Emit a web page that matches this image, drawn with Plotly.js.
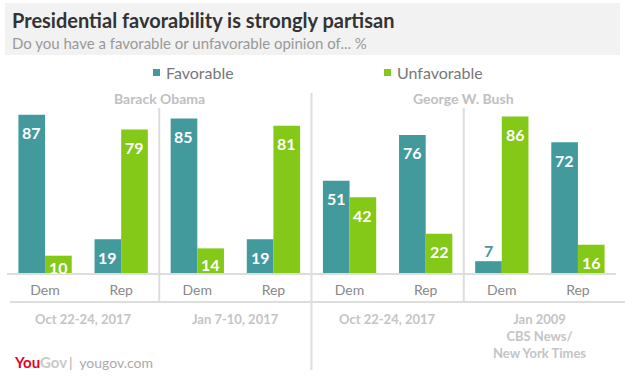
<!DOCTYPE html>
<html>
<head>
<meta charset="utf-8">
<script src="https://cdn.plot.ly/plotly-3.0.1.min.js"></script>
<style>html,body{margin:0;padding:0;background:#fff;}#chart{width:625px;height:376px;}</style>
</head>
<body>
<div id="chart"></div>
<script>
// ---- data ----
const categories = ['Dem', 'Rep', 'Dem', 'Rep', 'Dem', 'Rep', 'Dem', 'Rep'];
const favorable = [87, 19, 85, 19, 51, 76, 7, 72];
const unfavorable = [10, 79, 14, 81, 42, 22, 86, 16];
const seriesNames = ['Favorable', 'Unfavorable'];
const panelLabels = ['Barack Obama', 'George W. Bush'];
const dateLabels = ['Oct 22-24, 2017', 'Jan 7-10, 2017', 'Oct 22-24, 2017', 'Jan 2009<br>CBS News/<br>New York Times'];
const titleText = 'Presidential favorability is strongly partisan';
const subtitleText = 'Do you have a favorable or unfavorable opinion of... %';

// ---- style ----
const W = 625, H = 376;
const M = {l: 7, r: 9, t: 91, b: 102};
const PW = W - M.l - M.r, PH = H - M.t - M.b;
const TEAL = '#439a9d', GREEN = '#84c818';
const FONT = 'Lato, "Open Sans", sans-serif';
const px = x => (x - M.l) / PW;
const py = y => (H - M.b - y) / PH;
const pxPerUnit = PH / 100;

const xs = categories.map((c, i) => i);

const traces = [
  {type: 'bar', name: seriesNames[0], x: xs, y: favorable, marker: {color: TEAL}, hoverinfo: 'none'},
  {type: 'bar', name: seriesNames[1], x: xs, y: unfavorable, marker: {color: GREEN}, hoverinfo: 'none'}
];

const annotations = [];
const shapes = [];

// value labels
[[favorable, -0.175, TEAL], [unfavorable, 0.175, GREEN]].forEach(([vals, off, col]) => {
  vals.forEach((v, i) => {
    const h = v * pxPerUnit;
    const outside = v < 9;
    annotations.push({
      x: i + off, y: v, xref: 'x', yref: 'y', text: '<b>' + v + '</b>', showarrow: false,
      yanchor: 'middle', yshift: outside ? 11 : -Math.min(18, 0.62 * h),
      font: {family: FONT, size: 16, color: outside ? col : '#ffffff'}
    });
  });
});

// header background
shapes.push({type: 'rect', xref: 'paper', yref: 'paper', x0: px(5), x1: px(620), y0: py(3), y1: py(55),
  fillcolor: '#f2f2f2', line: {width: 0}, layer: 'below'});

// title + subtitle
annotations.push({xref: 'paper', yref: 'paper', x: px(10), y: py(20), xanchor: 'left', yanchor: 'middle',
  text: '<b>' + titleText + '</b>', showarrow: false, font: {family: FONT, size: 20, color: '#333333'}});
annotations.push({xref: 'paper', yref: 'paper', x: px(10), y: py(43), xanchor: 'left', yanchor: 'middle',
  text: subtitleText, showarrow: false, font: {family: FONT, size: 15, color: '#999999'}});

// legend
[[153, TEAL, 164], [384, GREEN, 395]].forEach(([sx, col, tx], k) => {
  shapes.push({type: 'rect', xref: 'paper', yref: 'paper', x0: px(sx), x1: px(sx + 7), y0: py(69), y1: py(76),
    fillcolor: col, line: {width: 0}});
  annotations.push({xref: 'paper', yref: 'paper', x: px(tx), y: py(72.5), xanchor: 'left', yanchor: 'middle',
    text: seriesNames[k], showarrow: false, font: {family: FONT, size: 16, color: '#777777'}});
});

// panel labels
panelLabels.forEach((t, k) => {
  annotations.push({xref: 'x', yref: 'paper', x: 1.5 + 4 * k, y: py(98), yanchor: 'middle',
    text: '<b>' + t + '</b>', showarrow: false, font: {family: FONT, size: 14, color: '#c0c0c0'}});
});

// date labels
dateLabels.forEach((t, k) => {
  annotations.push({xref: 'x', yref: 'paper', x: 0.5 + 2 * k, y: py(309), yanchor: 'top',
    text: '<b>' + t + '</b>', showarrow: false, font: {family: FONT, size: 13, color: '#c4c4c4'}});
});

// separators
const LINE = '#dddddd';
shapes.push({type: 'line', xref: 'paper', yref: 'paper', x0: px(7), x1: px(616), y0: py(274), y1: py(274), line: {color: LINE, width: 2}});
shapes.push({type: 'line', xref: 'paper', yref: 'paper', x0: px(10), x1: px(625), y0: py(302), y1: py(302), line: {color: LINE, width: 2}});
[[1.5, 108, 303], [3.5, 93, 370], [5.5, 108, 303]].forEach(([xv, y0, y1]) => {
  shapes.push({type: 'line', xref: 'x', yref: 'paper', x0: xv, x1: xv, y0: py(y0), y1: py(y1), line: {color: LINE, width: 2}});
});

// logo
annotations.push({xref: 'paper', yref: 'paper', x: px(12), y: py(362), xanchor: 'left', yanchor: 'middle', showarrow: false,
  text: '<b><span style="color:#e4002b">You</span><span style="color:#c9c9c9">Gov</span></b>',
  font: {family: FONT, size: 15, color: '#e4002b'}});
annotations.push({xref: 'paper', yref: 'paper', x: px(67), y: py(362), xanchor: 'left', yanchor: 'middle', showarrow: false,
  text: '|  yougov.com', font: {family: FONT, size: 14, color: '#aaaaaa'}});

const layout = {
  width: W, height: H, margin: M,
  paper_bgcolor: '#ffffff', plot_bgcolor: '#ffffff',
  showlegend: false, barmode: 'group', bargap: 0.3, bargroupgap: 0,
  xaxis: {range: [-0.5, 7.5], tickvals: xs, ticktext: categories, showgrid: false, zeroline: false,
    showline: false, ticks: '', ticklabelstandoff: 6, tickfont: {family: FONT, size: 14, color: '#888888'}, fixedrange: true},
  yaxis: {range: [0, 100], showgrid: false, zeroline: false, showticklabels: false, showline: false, fixedrange: true},
  annotations: annotations, shapes: shapes
};

Plotly.newPlot('chart', traces, layout, {displayModeBar: false, staticPlot: true});
</script>
</body>
</html>
